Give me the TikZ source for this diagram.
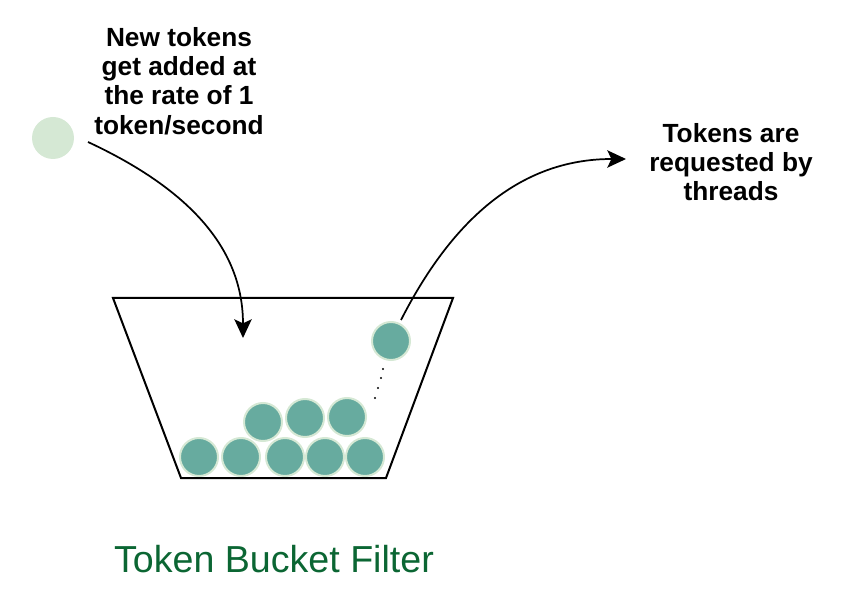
\documentclass[tikz,border=0pt]{standalone}
\usepackage{fontspec}
\setmainfont{Liberation Sans}
\usetikzlibrary{arrows.meta}
\definecolor{tokenfill}{HTML}{67AB9F}
\definecolor{tokenline}{HTML}{D5E8D4}
\definecolor{titlegreen}{RGB}{11,102,51}
\tikzstyle{token} = [circle, fill=tokenfill, draw=tokenline, line width=1.5pt, minimum size=28.5pt, inner sep=0pt]
\tikzstyle{newtoken} = [circle, fill=tokenline, minimum size=31.5pt, inner sep=0pt]
\tikzstyle{connector} = [line width=1.3pt, -{Stealth[length=14pt,width=13pt,inset=3pt]}]
\tikzstyle{infotext} = [align=center, font=\fontsize{19.7}{22}\selectfont\bfseries]

\begin{document}
\begin{tikzpicture}[x=0.75pt, y=-0.75pt]
                \useasboundingbox (0,0) rectangle (852,616);

                % bucket
                \draw [line width=1.5pt] (113,298) -- (453,298) -- (386,478) -- (181,478) -- cycle;

                \node (new) [newtoken] at (53,138) {};
                \node (add) [infotext] at (179,81) {New tokens\\get added at\\the rate of 1\\token/second};
                \node (req) [infotext] at (731,162) {Tokens are\\requested by\\threads};
                \node (title) [anchor=base, text=titlegreen, font=\fontsize{28.2}{30}\selectfont] at (274,572) {Token Bucket Filter};

                % tokens in the bucket
                \node (b1) [token] at (199,457) {};
                \node (b2) [token] at (241,457) {};
                \node (b3) [token] at (285,457) {};
                \node (b4) [token] at (325,457) {};
                \node (b5) [token] at (365,457) {};
                \node (m1) [token] at (263,422) {};
                \node (m2) [token] at (305,418) {};
                \node (m3) [token] at (347,417) {};
                \node (top) [token] at (391,341) {};

                \foreach \p in {(383,369),(381,378),(378,388),(375,398)}
                    \fill \p circle (0.9pt);

                \coordinate (addstart) at (88,142);
                \coordinate (drop) at (243,338);
                \coordinate (takestart) at (401,320);
                \coordinate (take) at (626,159);

                \draw [connector] (addstart) to[out=-25, in=90] (drop);
                \draw [connector] (takestart) to[out=63, in=180] (take);
            \end{tikzpicture}
\end{document}
